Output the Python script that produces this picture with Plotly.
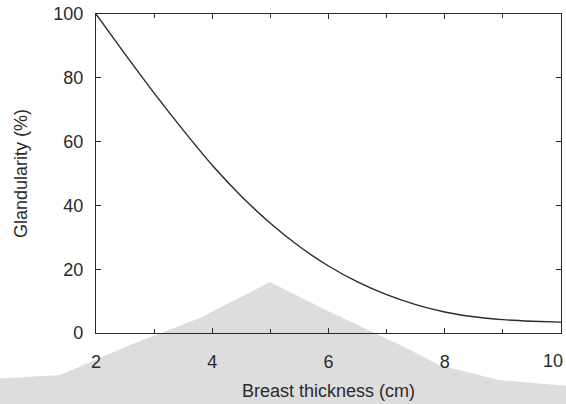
import plotly.graph_objects as go

# Glandularity as a function of compressed breast thickness
thickness_cm = [2.0, 2.5, 3.0, 3.5, 4.0, 4.5, 5.0, 5.5, 6.0, 6.5, 7.0, 7.5, 8.0, 8.5, 9.0, 9.5, 10.0]
glandularity_pct = [100, 87.4, 75.2, 63.6, 52.6, 42.9, 34.4, 27.1, 21.0, 16.0, 12.0, 8.9, 6.6, 5.1, 4.2, 3.7, 3.4]

x_ticks = [2, 4, 6, 8, 10]
y_ticks = [0, 20, 40, 60, 80, 100]

# background watermark outline (fractions of the page box)
wm_x = [-0.2, -0.2, 0.106, 0.23, 0.353, 0.477, 0.583, 0.707, 0.777, 0.883, 1.2, 1.2]
wm_y = [-0.2, 0.047, 0.072, 0.146, 0.213, 0.302, 0.228, 0.146, 0.096, 0.059, 0.022, -0.2]

INK = "#2a2a2a"
FONT = "Liberation Sans, Arial, sans-serif"

fig = go.Figure()
fig.add_trace(go.Scatter(
    x=thickness_cm, y=glandularity_pct, mode="lines",
    line=dict(color=INK, width=1.4, shape="spline", smoothing=0.6),
    hoverinfo="skip", showlegend=False,
))

# map the watermark polygon from the page box into paper space
l, r, t, b = 96, 5, 14, 71
W, H = 566, 404
pw, ph = W - l - r, H - t - b
path = ""
for i, (px, py) in enumerate(zip(wm_x, wm_y)):
    sx = (px * W - l) / pw
    sy = (py * H - b) / ph
    path += ("M" if i == 0 else "L") + f"{sx},{sy} "
path += "Z"
fig.add_shape(type="path", path=path, xref="paper", yref="paper",
              fillcolor="#dddddd", line=dict(width=0), layer="below")

# the last tick label sits at the page edge, so it is right-anchored on its tick
tick_text = [str(v) for v in x_ticks[:-1]] + [""]
fig.add_annotation(x=x_ticks[-1], y=0, xref="x", yref="y", text=str(x_ticks[-1]),
                   showarrow=False, xanchor="right", yanchor="middle",
                   xshift=4, yshift=-28, font=dict(size=18, color=INK))

fig.update_layout(
    width=W, height=H,
    margin=dict(l=l, r=r, t=t, b=b, autoexpand=False),
    paper_bgcolor="white", plot_bgcolor="rgba(0,0,0,0)",
    font=dict(family=FONT, size=18, color=INK),
    showlegend=False,
)
fig.update_xaxes(
    range=[2, 10], tickvals=x_ticks, ticktext=tick_text,
    ticks="inside", ticklen=5, tickwidth=1.2, tickcolor=INK,
    minor=dict(dtick=1, tick0=0, ticks="inside", ticklen=4, tickwidth=1.2, tickcolor=INK),
    showline=True, linecolor=INK, linewidth=1.4, mirror="ticks",
    showgrid=False, zeroline=False, automargin=False,
    ticklabelstandoff=12,
    title=dict(text="Breast thickness (cm)", font=dict(size=18), standoff=13),
)
fig.update_yaxes(
    range=[0, 100], tickvals=y_ticks, ticktext=[str(v) for v in y_ticks],
    ticks="inside", ticklen=5, tickwidth=1.2, tickcolor=INK,
    showline=True, linecolor=INK, linewidth=1.4, mirror="ticks",
    showgrid=False, zeroline=False, automargin=False,
    ticklabelstandoff=8,
    title=dict(text="Glandularity (%)", font=dict(size=18), standoff=20),
)

fig.write_html("out.html")
